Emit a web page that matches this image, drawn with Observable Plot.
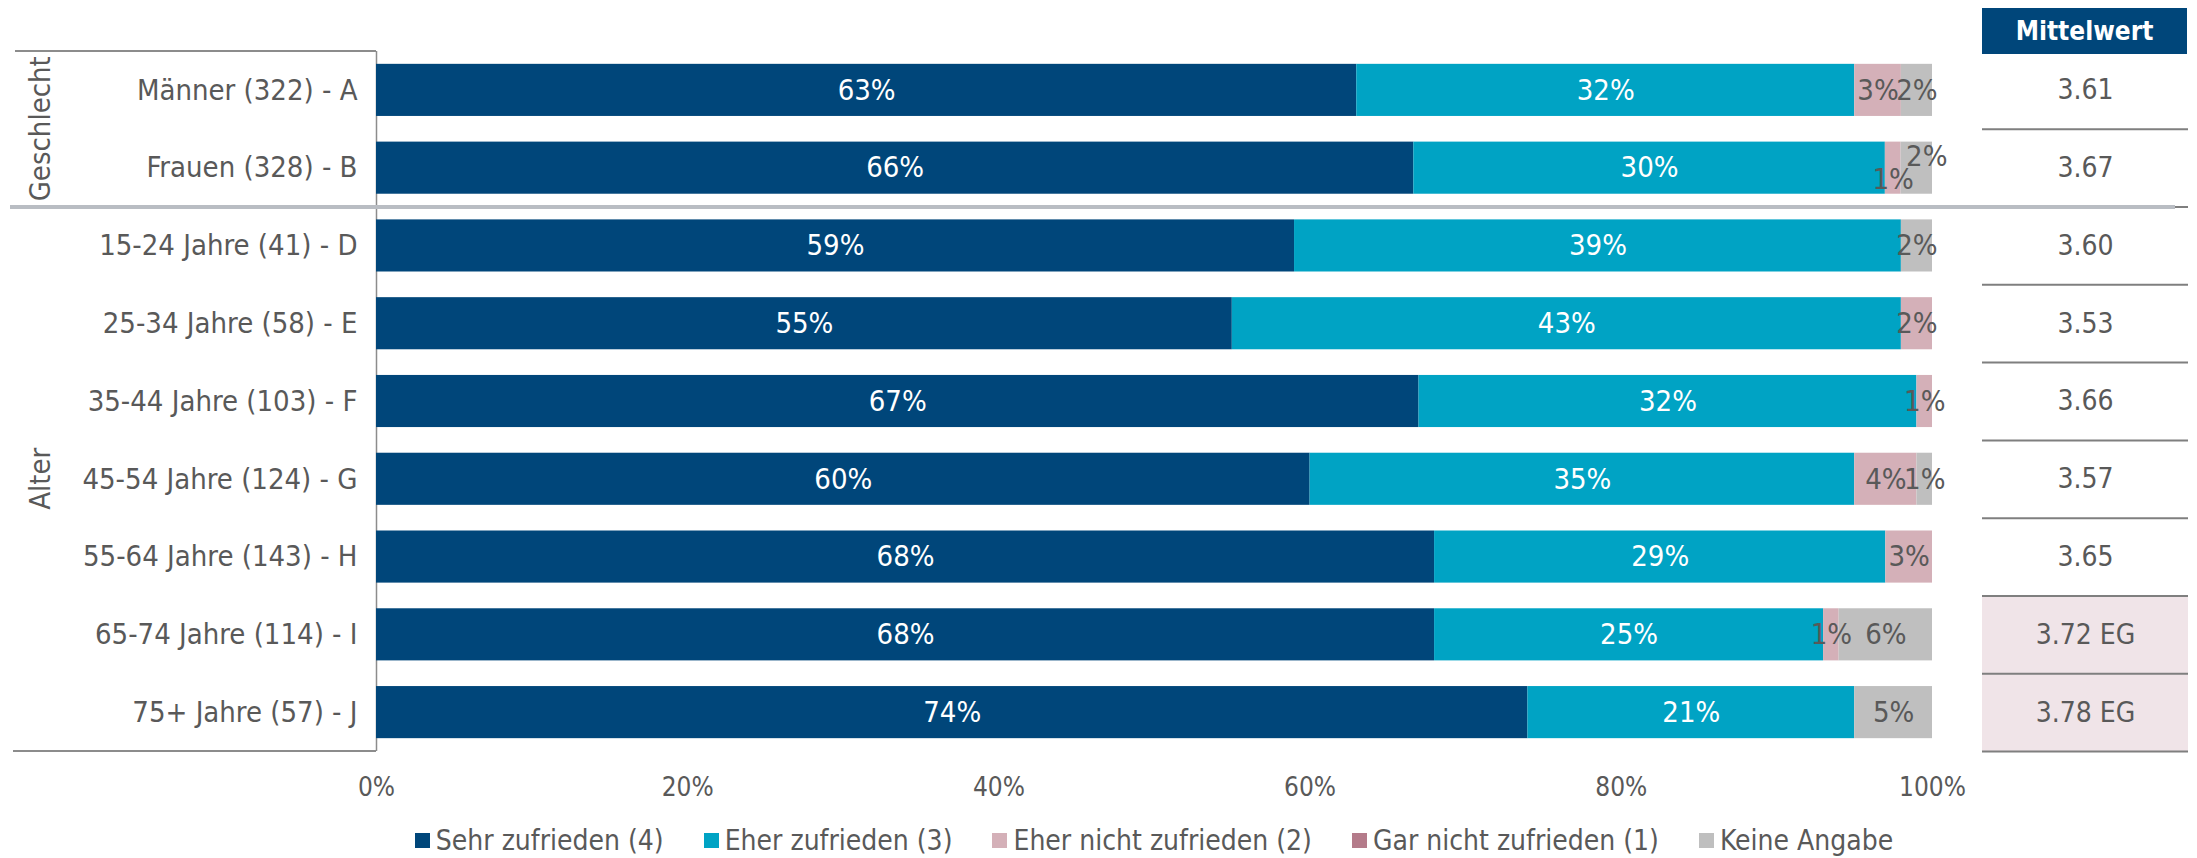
<!DOCTYPE html>
<html>
<head>
<meta charset="utf-8">
<script src="https://cdn.jsdelivr.net/npm/d3@7"></script>
<script src="https://cdn.jsdelivr.net/npm/@observablehq/plot@0.6"></script>
<style>
  html, body { margin: 0; padding: 0; background: #ffffff; }
  #wrap { position: relative; width: 2197px; height: 858px; overflow: hidden;
          font-family: "DejaVu Sans Condensed", "DejaVu Sans", sans-serif; font-stretch: condensed; color: #595959; }
  #wrap > svg { position: absolute; top: 0; overflow: visible; }
  .deco { position: absolute; }
  #header { position: absolute; background: #00467a; color: #ffffff; font-weight: bold; font-size: 26px;
            display: flex; align-items: center; justify-content: center; }
  #legend { position: absolute; }
  .lg-swatch { margin: 0 20px !important; }
  .lg-swatch > svg { margin-right: 6px !important; }
</style>
</head>
<body>
<div id="wrap"></div>
<script>
// ---------- data ----------
const rows = [
  "Männer (322) - A",
  "Frauen (328) - B",
  "15-24 Jahre (41) - D",
  "25-34 Jahre (58) - E",
  "35-44 Jahre (103) - F",
  "45-54 Jahre (124) - G",
  "55-64 Jahre (143) - H",
  "65-74 Jahre (114) - I",
  "75+ Jahre (57) - J"
];
const groups = ["Geschlecht", "Geschlecht", "Alter", "Alter", "Alter", "Alter", "Alter", "Alter", "Alter"];
const categories = ["Sehr zufrieden (4)", "Eher zufrieden (3)", "Eher nicht zufrieden (2)", "Gar nicht zufrieden (1)", "Keine Angabe"];
const colors = ["#00467a", "#00a3c4", "#d4b0b8", "#b47b8a", "#bfbfbf"];
const sehrZufrieden      = [63, 66, 59, 55, 67, 60, 68, 68, 74];
const eherZufrieden      = [32, 30, 39, 43, 32, 35, 29, 25, 21];
const eherNichtZufrieden = [3, 1, 0, 2, 1, 4, 3, 1, 0];
const garNichtZufrieden  = [0, 0, 0, 0, 0, 0, 0, 0, 0];
const keineAngabe        = [2, 2, 2, 0, 0, 1, 0, 6, 5];
const mittelwert   = [3.61, 3.67, 3.60, 3.53, 3.66, 3.57, 3.65, 3.72, 3.78];
const signifikanz  = ["", "", "", "", "", "", "", "EG", "EG"];
const xTicks = [0, 0.2, 0.4, 0.6, 0.8, 1];
const xTickLabels = ["0%", "20%", "40%", "60%", "80%", "100%"];
const headerLabel = "Mittelwert";

// ---------- layout ----------
const FONT = '"DejaVu Sans Condensed", "DejaVu Sans", sans-serif';
const TEXT = "#595959";
const W = 2197, H = 810;
const mTop = 51, mBottom = 59, mLeft = 376, mRight = 265;
const padInner = 0.33;
const mwLeft = 1982, mwWidth = 206;

const series = [sehrZufrieden, eherZufrieden, eherNichtZufrieden, garNichtZufrieden, keineAngabe];
const table = [];
rows.forEach((r, i) => categories.forEach((c, j) => {
  const v = series[j][i];
  if (v > 0) table.push({row: r, idx: i, cat: c, value: v});
}));
const light = new Set(categories.slice(0, 2));

const stackBase = {x: "value", y: "row", z: "cat", order: categories, offset: "normalize"};
const labelMark = (pred, fill, extra = {}) =>
  Plot.text(table, Plot.stackX({
    ...stackBase,
    text: d => pred(d) ? `${d.value}%` : null,
    fill, fontSize: 29, fontFamily: FONT, ...extra
  }));

const main = Plot.plot({
  width: W, height: H,
  marginTop: mTop, marginBottom: mBottom, marginLeft: mLeft, marginRight: mRight,
  style: {fontFamily: FONT, color: TEXT, background: "transparent", overflow: "visible"},
  x: {domain: [0, 1]},
  y: {domain: rows, paddingInner: padInner, paddingOuter: padInner / 2, round: false},
  color: {domain: categories, range: colors},
  marks: [
    Plot.ruleX([0], {stroke: "#8c8c8c", strokeWidth: 1.5}),
    Plot.barX(table, Plot.stackX({...stackBase, fill: "cat"})),
    labelMark(d => light.has(d.cat), "#ffffff"),
    labelMark(d => !light.has(d.cat) && d.idx !== 1, TEXT),
    labelMark(d => d.idx === 1 && d.cat === "Keine Angabe", TEXT, {dy: -11, dx: 10}),
    labelMark(d => d.idx === 1 && d.cat === "Eher nicht zufrieden (2)", TEXT, {dy: 12}),
    Plot.axisY({tickSize: 0, tickPadding: 19, fontSize: 29, label: null}),
    Plot.axisX({ticks: xTicks, tickFormat: d => xTickLabels[xTicks.indexOf(d)], tickSize: 0, tickPadding: 26, fontSize: 26, label: null})
  ]
});

const mwData = rows.map((r, i) => ({row: r, m: mittelwert[i], sig: signifikanz[i]}));
const yScale = main.scale("y");
const step = yScale.step ?? yScale.bandwidth / (1 - padInner);

const mw = Plot.plot({
  width: mwWidth, height: H,
  marginTop: mTop, marginBottom: mBottom, marginLeft: 0, marginRight: 0,
  style: {fontFamily: FONT, color: TEXT, background: "transparent", overflow: "visible"},
  x: {domain: [0, 1], axis: null},
  y: {domain: rows, padding: 0, round: false, axis: null},
  marks: [
    Plot.barX(mwData.filter(d => d.sig), {x1: 0, x2: 1, y: "row", fill: "#f0e4e8"}),
    Plot.ruleY(mwData, {y: "row", dy: step / 2, stroke: "#7f7f7f", strokeWidth: 2}),
    Plot.text(mwData, {y: "row", x: 0.5, text: d => d.m.toFixed(2) + (d.sig ? " " + d.sig : ""), fontSize: 28, fill: TEXT})
  ]
});

const wrap = document.getElementById("wrap");
main.style.left = "0px";
mw.style.left = mwLeft + "px";
wrap.appendChild(main);
wrap.appendChild(mw);

// ---------- decorations derived from the y scale ----------
const rowTop = k => yScale.apply(rows[k]) - (step - yScale.bandwidth) / 2;
const top0 = rowTop(0);
const bottomN = rowTop(rows.length - 1) + step;
const groupNames = [...new Set(groups)];
const groupSpans = groupNames.map(g => {
  const first = groups.indexOf(g), last = groups.lastIndexOf(g);
  return {g, y1: rowTop(first), y2: rowTop(last) + step};
});

const svg = d3.select(main);
groupSpans.forEach(s => {
  svg.append("text")
    .attr("transform", `translate(40,${(s.y1 + s.y2) / 2}) rotate(-90)`)
    .attr("text-anchor", "middle")
    .attr("dominant-baseline", "central")
    .attr("fill", TEXT)
    .attr("font-size", 29)
    .attr("font-family", FONT)
    .text(s.g);
});

function addDiv(css) {
  const d = document.createElement("div");
  d.className = "deco";
  Object.assign(d.style, css);
  wrap.appendChild(d);
  return d;
}
// box lines around the row labels
addDiv({left: "15px", top: (top0 - 1) + "px", width: (mLeft - 15) + "px", height: "0px", borderTop: "2px solid #8c8c8c"});
addDiv({left: "13px", top: (bottomN - 1) + "px", width: (mLeft - 13) + "px", height: "0px", borderTop: "2px solid #8c8c8c"});
// group separators
groupSpans.slice(0, -1).forEach(s => {
  addDiv({left: "10px", top: (s.y2 - 2) + "px", width: "2165px", height: "4px", background: "#b9bdc3"});
});

// header
const header = document.createElement("div");
header.id = "header";
Object.assign(header.style, {left: mwLeft + "px", top: "8px", width: "205px", height: "46px"});
header.textContent = headerLabel;
wrap.appendChild(header);

// legend
const legend = Plot.legend({
  legend: "swatches",
  color: {domain: categories, range: colors},
  swatchSize: 15,
  className: "lg",
  style: {fontFamily: FONT, fontSize: "28px", color: TEXT, justifyContent: "center", margin: "0", minHeight: "36px"}
});
const lgBox = document.createElement("div");
lgBox.id = "legend";
Object.assign(lgBox.style, {left: (mLeft - 40) + "px", width: (W - mLeft - mRight + 80) + "px", top: "822px"});
lgBox.appendChild(legend);
wrap.appendChild(lgBox);
</script>
</body>
</html>
